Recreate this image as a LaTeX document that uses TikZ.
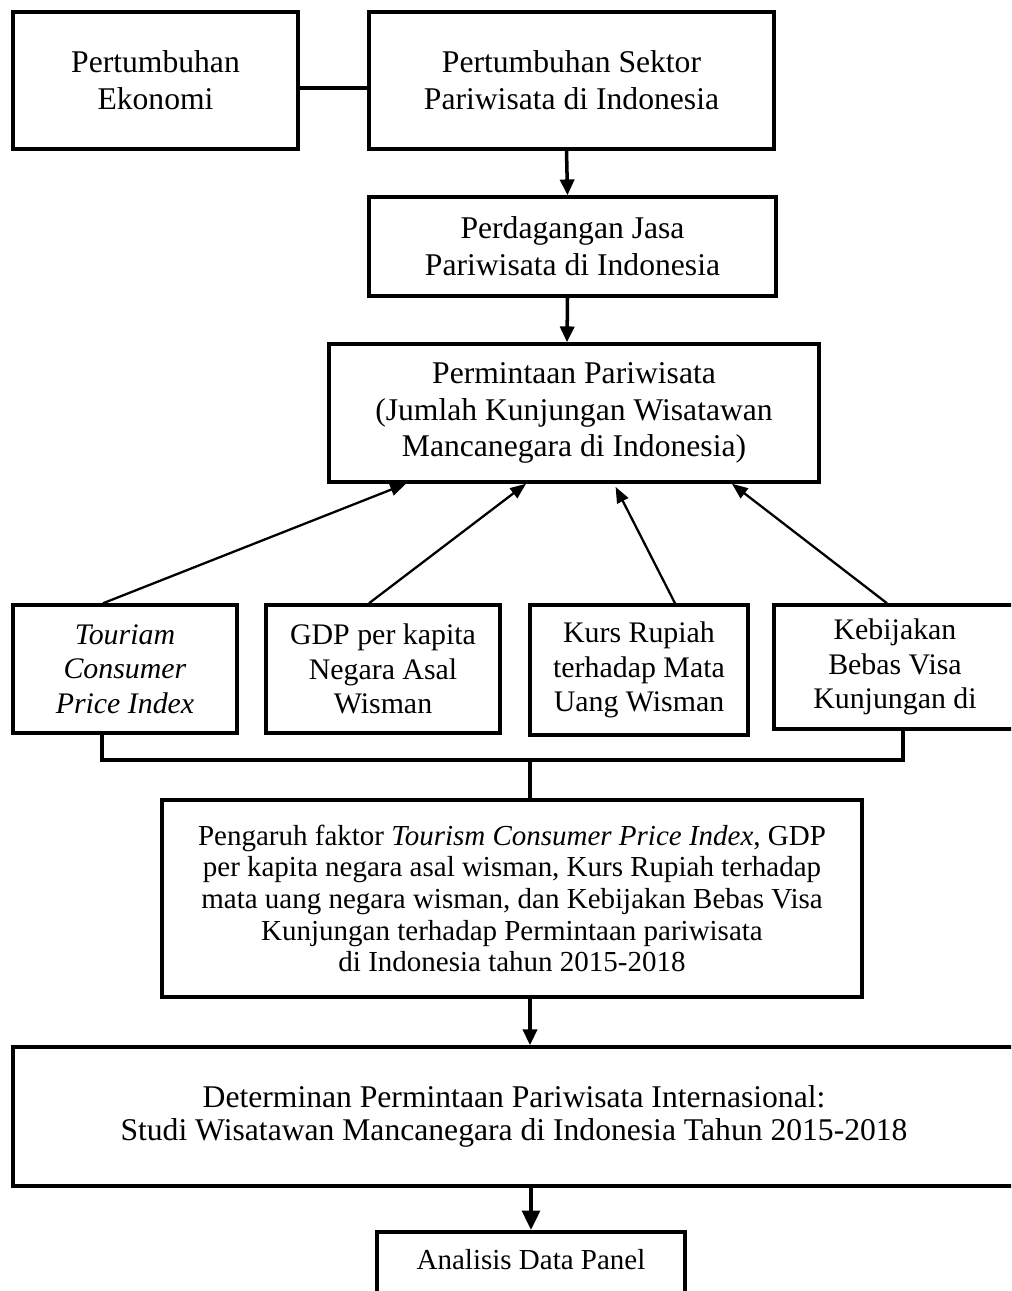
\documentclass[tikz,border=0pt]{standalone}
\usepackage{fontspec}
\setmainfont{Liberation Serif}
\usepackage{tikz}
\usetikzlibrary{arrows.meta,positioning}

\begin{document}
\begin{tikzpicture}[x=0.02cm, y=-0.02cm,
    box/.style={draw, line width=2pt, align=center, inner sep=0pt, font=\fontsize{18}{21}\selectfont},
    factor/.style={box, font=\fontsize{17}{19.5}\selectfont},
    link/.style={line width=2pt},
    flow/.style={line width=2pt, -{Triangle[length=9pt,width=8pt]}},
    cause/.style={line width=1.3pt, -{Triangle[length=9pt,width=7pt]}}]

    \useasboundingbox (0,0) rectangle (1011,1291);
    \clip (0,0) rectangle (1011,1291);

    % top row
    \node[box, minimum width=5.70cm, minimum height=2.74cm] (ekonomi) at (155.5,80.5) {Pertumbuhan\\Ekonomi};
    \node[box, minimum width=8.10cm, minimum height=2.74cm] (sektor) at (571.5,80.5) {Pertumbuhan Sektor\\Pariwisata di Indonesia};

    \node[box, minimum width=8.14cm, minimum height=1.98cm] (jasa) at (572.5,246.5) {Perdagangan Jasa\\Pariwisata di Indonesia};

    \node[box, minimum width=9.80cm, minimum height=2.76cm] (demand) at (574,413) {Permintaan Pariwisata\\(Jumlah Kunjungan Wisatawan\\Mancanegara di Indonesia)};

    % factors
    \node[factor, minimum width=4.48cm, minimum height=2.56cm] (tcpi) at (125,669) {\textit{Touriam}\\\textit{Consumer}\\\textit{Price Index}};
    \node[factor, minimum width=4.68cm, minimum height=2.56cm] (gdp) at (383,669) {GDP per kapita\\Negara Asal\\Wisman};
    \node[factor, minimum width=4.36cm, minimum height=2.60cm] (kurs) at (639,670) {Kurs Rupiah\\terhadap Mata\\Uang Wisman};
    \node[factor, minimum width=4.84cm, minimum height=2.48cm] (visa) at (895,667) {Kebijakan\\Bebas Visa\\Kunjungan di};

    \node[box, minimum width=14.0cm, minimum height=3.94cm, font=\fontsize{16.5}{18}\selectfont] (pengaruh) at (512,898.5) {Pengaruh faktor \textit{Tourism Consumer Price Index}, GDP\\per kapita negara asal wisman, Kurs Rupiah terhadap\\mata uang negara wisman, dan Kebijakan Bebas Visa\\Kunjungan terhadap Permintaan pariwisata\\di Indonesia tahun 2015-2018};

    \node[box, minimum width=20.04cm, minimum height=2.78cm, font=\fontsize{18}{19}\selectfont] (judul) at (514,1116.5) {Determinan Permintaan Pariwisata Internasional:\\Studi Wisatawan Mancanegara di Indonesia Tahun 2015-2018};

    \node[box, anchor=north, minimum width=6.16cm, text height=0.76cm, text depth=1.2cm, font=\fontsize{16.5}{19}\selectfont] (panel) at (531,1230) {Analisis Data Panel};

    % connectors
    \draw[line width=2.4pt] ([yshift=-0.15cm]ekonomi.east) -- ([yshift=-0.15cm]sektor.west);
    \draw[flow] ([xshift=-0.1cm]sektor.south) -- ([xshift=-0.1cm]jasa.north);
    \draw[flow] ([xshift=-0.1cm]jasa.south) -- ([xshift=-0.14cm]demand.north);

    \draw[cause] ([xshift=-0.44cm]tcpi.north) -- ([xshift=-3.36cm]demand.south);
    \draw[cause] ([xshift=-0.28cm]gdp.north) -- ([xshift=-0.96cm]demand.south);
    \draw[cause, shorten >=2pt] ([xshift=0.72cm]kurs.north) -- ([xshift=0.80cm]demand.south);
    \draw[cause] ([xshift=-0.16cm]visa.north) -- ([xshift=3.16cm]demand.south);

    \coordinate (bar) at (530,760);
    \draw[link] ([xshift=-0.46cm]tcpi.south) |- (bar) -| ([xshift=0.16cm]visa.south);
    \draw[link] (bar) -- (bar |- pengaruh.north);

    \draw[flow] (bar |- pengaruh.south) -- (bar |- judul.north);
    \draw[line width=2.2pt, -{Triangle[length=11pt,width=10pt]}] (panel.north |- judul.south) -- (panel.north);
\end{tikzpicture}
\end{document}
